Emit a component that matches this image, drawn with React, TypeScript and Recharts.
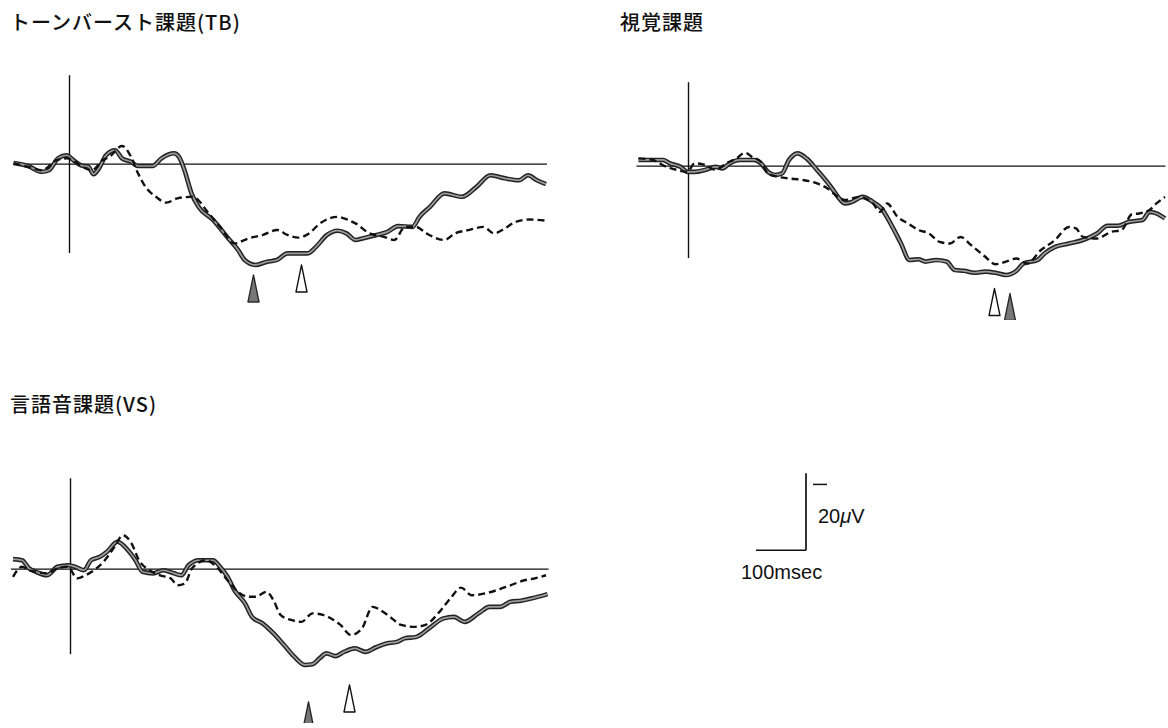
import React from 'react';
import { ComposedChart, Line, XAxis, YAxis, ReferenceLine, ReferenceDot } from 'recharts';

// each point: [time in msec, amplitude in μV]
type Pt = [number, number];

// トーンバースト課題(TB)
const tbSolid: Pt[] = [
  [-112, 0.3], [-83, -0.5], [-55, -2.0], [-41, -1.6], [-23, 1.5], [-5, 2.3], [6, 1.2], [23, -0.3],
  [38, -0.7], [48, -2.6], [59, -1.1], [73, 2.3], [91, 3.6], [105, 1.5], [123, 0.6], [137, -0.5],
  [166, -0.5], [184, 1.5], [209, 2.8], [219, 1.9], [230, -1.6], [244, -7.6], [258, -11.1], [287, -14.5],
  [315, -18.9], [337, -22.3], [351, -25.0], [372, -26.2], [394, -25.4], [415, -24.9], [436, -23.2],
  [458, -23.2], [476, -23.2], [493, -21.5], [515, -18.4], [536, -17.3], [554, -18.0], [572, -19.7],
  [586, -19.3], [614, -18.4], [636, -17.6], [657, -16.1], [686, -16.3], [700, -13.7], [721, -11.1],
  [750, -7.6], [785, -8.5], [814, -5.9], [842, -2.9], [871, -3.7], [899, -4.2], [917, -2.9], [935, -4.2],
  [953, -5.2],
];
const tbDashed: Pt[] = [
  [-112, 0.2], [-83, -0.7], [-55, -1.6], [-26, 1.0], [-5, 1.5], [6, 1.0], [23, -0.5], [45, -1.6],
  [66, 1.0], [80, 1.9], [105, 4.7], [123, 1.9], [137, -2.4], [152, -5.9], [173, -8.5], [194, -10.0],
  [216, -8.9], [244, -8.5], [258, -9.4], [273, -11.9], [301, -16.3], [330, -20.6], [358, -19.3],
  [387, -18.4], [415, -17.1], [436, -18.4], [458, -19.1], [479, -18.0], [501, -15.4], [536, -13.7],
  [557, -14.5], [572, -15.4], [600, -18.0], [629, -18.9], [650, -19.7], [671, -16.3], [693, -16.3],
  [714, -18.0], [750, -19.7], [771, -18.0], [800, -17.1], [828, -16.3], [849, -18.0], [871, -16.7],
  [892, -15.0], [920, -14.4], [953, -14.7],
];

// 視覚課題
const visSolid: Pt[] = [
  [-100, 1.6], [-72, 1.6], [-51, 1.6], [-37, 0.7], [-16, -0.2], [-2, -1.5], [12, -1.5], [33, -1.0],
  [54, -0.2], [68, -0.6], [82, 0.7], [103, 1.6], [131, 1.6], [145, 0.7], [159, -1.5], [173, -2.3],
  [187, -1.9], [201, 1.6], [218, 3.3], [236, 2.0], [257, -1.0], [285, -5.4], [299, -8.0], [313, -9.7],
  [327, -9.3], [348, -8.0], [369, -9.3], [386, -11.0], [404, -14.9], [425, -20.1], [442, -24.4],
  [460, -24.2], [474, -24.8], [495, -24.4], [516, -24.8], [533, -27.0], [551, -27.2], [572, -27.7],
  [593, -27.4], [614, -27.7], [635, -28.3], [656, -27.2], [670, -25.3], [698, -24.4], [712, -22.7],
  [733, -21.0], [761, -20.1], [789, -19.2], [817, -17.5], [838, -15.5], [859, -15.5], [880, -14.5],
  [908, -14.0], [922, -11.9], [936, -12.3], [953, -13.6],
];
const visDashed: Pt[] = [
  [-100, 2.0], [-72, 1.6], [-44, -0.2], [-23, -1.0], [-2, -1.5], [12, 0.7], [33, 0.3], [54, -1.0],
  [75, 0.7], [96, 2.0], [113, 3.5], [127, 2.4], [145, 1.1], [159, -1.9], [180, -2.8], [201, -3.2],
  [229, -3.6], [257, -4.5], [278, -5.8], [299, -8.0], [313, -8.8], [341, -8.0], [369, -9.7],
  [383, -11.9], [397, -9.7], [418, -13.2], [439, -14.9], [460, -16.6], [481, -17.5], [502, -19.7],
  [523, -20.1], [544, -18.4], [565, -20.5], [593, -23.5], [614, -25.5], [635, -24.8], [656, -24.0],
  [677, -25.3], [705, -21.8], [733, -19.2], [761, -15.8], [775, -16.2], [789, -18.4], [817, -18.8],
  [845, -17.1], [866, -16.6], [887, -12.5], [901, -12.3], [922, -11.4], [936, -9.7], [953, -8.0],
];

// 言語音課題(VS)
const spSolid: Pt[] = [
  [-115, 2.6], [-97, 2.3], [-83, 0.2], [-69, -0.7], [-47, -1.6], [-26, 0.6], [-5, 1.0], [9, 0.6],
  [27, -0.3], [41, 2.3], [59, 3.2], [73, 4.5], [94, 7.1], [115, 4.9], [130, 2.3], [144, -0.7],
  [165, -1.1], [186, -0.3], [207, -1.1], [222, -1.6], [236, 1.0], [257, 2.3], [285, 2.3], [299, 0.6],
  [314, -2.0], [328, -5.5], [349, -8.9], [363, -12.4], [384, -14.1], [406, -16.7], [427, -19.7],
  [448, -22.8], [469, -24.9], [484, -24.7], [498, -23.2], [512, -21.9], [530, -22.6], [547, -21.5],
  [569, -20.6], [590, -21.5], [611, -20.3], [632, -19.3], [653, -18.9], [668, -18.0], [692, -17.6],
  [717, -15.4], [746, -12.8], [767, -12.4], [788, -13.7], [816, -11.5], [838, -9.8], [859, -9.8],
  [880, -8.5], [901, -8.2], [923, -7.6], [954, -6.5],
];
const spDashed: Pt[] = [
  [-115, -2.0], [-97, 0.6], [-83, -0.3], [-69, -0.7], [-47, -1.1], [-26, 0.2], [-5, 0.6], [13, -2.4],
  [30, -1.6], [52, 0.2], [66, 1.9], [87, 5.6], [105, 8.8], [122, 6.7], [137, 2.3], [158, -0.3],
  [179, -1.6], [200, -2.4], [215, -4.2], [229, -3.7], [243, 0.2], [271, 2.3], [292, 0.6], [314, -2.9],
  [335, -5.9], [356, -7.2], [370, -7.2], [392, -5.9], [406, -8.1], [420, -11.9], [441, -13.2],
  [462, -13.7], [484, -11.5], [505, -11.9], [526, -13.2], [540, -14.5], [561, -17.1], [583, -15.4],
  [604, -9.8], [625, -11.1], [639, -12.4], [661, -14.5], [689, -15.0], [710, -14.5], [738, -11.1],
  [760, -7.6], [781, -4.8], [802, -6.8], [830, -6.3], [852, -5.5], [880, -4.2], [908, -2.9],
  [929, -2.4], [951, -1.6],
];

// peak markers: [time, tip amplitude]
const tbFilledMark: Pt = [368, -28.8];
const tbOpenMark: Pt = [464, -26.2];
const visOpenMark: Pt = [612, -31.8];
const visFilledMark: Pt = [643, -33.1];
const spFilledMark: Pt = [476, -34.5];
const spOpenMark: Pt = [558, -30.1];

// calibration bar: 100 msec, 20 μV
const calTime = 100;
const calAmp = 20;

const PX_PER_MS = 0.5;
const PX_PER_UV = 3.85;
const T_MIN = -125;
const T_MAX = 965;
const V_MIN = -40;
const V_MAX = 26;

const toRows = (pts: Pt[]) => pts.map(([t, v]) => ({ t, v }));

const Arrowhead = ({ cx, cy, filled }: { cx?: number; cy?: number; filled: boolean }) => {
  if (cx == null || cy == null) return null;
  const w = 5.5;
  const h = 27;
  return (
    <path
      d={`M${cx},${cy} L${cx + w},${cy + h} L${cx - w},${cy + h} Z`}
      fill={filled ? '#777' : '#ffffff'}
      stroke={filled ? '#2a2a2a' : '#111'}
      strokeWidth={1.4}
      strokeLinejoin="round"
    />
  );
};

interface PanelProps {
  x0: number;
  y0: number;
  solid: Pt[];
  dashed: Pt[];
  lineFrom: number;
  lineTo: number;
  axisTop: number;
  axisBottom: number;
  filledMark: Pt;
  openMark: Pt;
}

const Panel = ({ x0, y0, solid, dashed, lineFrom, lineTo, axisTop, axisBottom, filledMark, openMark }: PanelProps) => {
  const width = (T_MAX - T_MIN) * PX_PER_MS;
  const height = (V_MAX - V_MIN) * PX_PER_UV;
  const solidRows = toRows(solid);
  const dashedRows = toRows(dashed);
  return (
    <div style={{ position: 'absolute', left: x0 + T_MIN * PX_PER_MS, top: y0 - V_MAX * PX_PER_UV }}>
      <ComposedChart width={width} height={height} margin={{ top: 0, right: 0, bottom: 0, left: 0 }} style={{ overflow: 'visible' }}>
        <XAxis type="number" dataKey="t" domain={[T_MIN, T_MAX]} hide allowDataOverflow />
        <YAxis type="number" domain={[V_MIN, V_MAX]} hide allowDataOverflow />
        <ReferenceLine segment={[{ x: lineFrom, y: 0 }, { x: lineTo, y: 0 }]} stroke="#111" strokeWidth={1.4} ifOverflow="visible" />
        <ReferenceLine segment={[{ x: 0, y: axisTop }, { x: 0, y: axisBottom }]} stroke="#111" strokeWidth={1.4} ifOverflow="visible" />
        <Line data={solidRows} dataKey="v" type="monotone" stroke="#222" strokeWidth={4.6} dot={false} activeDot={false} isAnimationActive={false} />
        <Line data={solidRows} dataKey="v" type="monotone" stroke="#9c9c9c" strokeWidth={1.7} dot={false} activeDot={false} isAnimationActive={false} />
        <Line data={dashedRows} dataKey="v" type="monotone" stroke="#111" strokeWidth={2.4} strokeDasharray="7 4" dot={false} activeDot={false} isAnimationActive={false} />
        <ReferenceDot x={filledMark[0]} y={filledMark[1]} ifOverflow="visible" shape={(p: any) => <Arrowhead cx={p.cx} cy={p.cy} filled />} />
        <ReferenceDot x={openMark[0]} y={openMark[1]} ifOverflow="visible" shape={(p: any) => <Arrowhead cx={p.cx} cy={p.cy} filled={false} />} />
      </ComposedChart>
    </div>
  );
};

const CalibrationBar = ({ x0, y0 }: { x0: number; y0: number }) => {
  const tMin = -120;
  const tMax = 60;
  const vMin = -5;
  const vMax = 25;
  return (
    <div style={{ position: 'absolute', left: x0 + tMin * PX_PER_MS, top: y0 - vMax * PX_PER_UV }}>
      <ComposedChart width={(tMax - tMin) * PX_PER_MS} height={(vMax - vMin) * PX_PER_UV} margin={{ top: 0, right: 0, bottom: 0, left: 0 }}>
        <XAxis type="number" dataKey="t" domain={[tMin, tMax]} hide allowDataOverflow />
        <YAxis type="number" domain={[vMin, vMax]} hide allowDataOverflow />
        <ReferenceLine segment={[{ x: -calTime, y: 0 }, { x: 0, y: 0 }]} stroke="#111" strokeWidth={1.7} />
        <ReferenceLine segment={[{ x: 0, y: 0 }, { x: 0, y: calAmp }]} stroke="#111" strokeWidth={1.7} />
        <ReferenceLine segment={[{ x: 14, y: 17.1 }, { x: 42, y: 17.1 }]} stroke="#111" strokeWidth={1.5} />
      </ComposedChart>
    </div>
  );
};

const titleStyle: React.CSSProperties = {
  position: 'absolute',
  fontFamily: '"Noto Sans CJK JP", "Noto Sans", sans-serif',
  fontSize: 20,
  fontWeight: 500,
  lineHeight: '20px',
  letterSpacing: 1,
  color: '#111',
  whiteSpace: 'nowrap',
};

const labelStyle: React.CSSProperties = {
  position: 'absolute',
  fontFamily: '"Liberation Sans", Arial, sans-serif',
  fontSize: 20,
  lineHeight: '20px',
  color: '#111',
  whiteSpace: 'nowrap',
};

export default function App() {
  return (
    <div style={{ position: 'absolute', left: 0, top: 0, width: 1168, height: 728, background: '#fff', overflow: 'hidden' }}>
      <div style={{ ...titleStyle, left: 10, top: 12 }}>トーンバースト課題(TB)</div>
      <div style={{ ...titleStyle, left: 620, top: 12 }}>視覚課題</div>
      <div style={{ ...titleStyle, left: 10, top: 394 }}>言語音課題(VS)</div>

      <Panel x0={69.5} y0={164} solid={tbSolid} dashed={tbDashed} lineFrom={-112} lineTo={955}
        axisTop={23.1} axisBottom={-23.1} filledMark={tbFilledMark} openMark={tbOpenMark} />
      <Panel x0={688} y0={166} solid={visSolid} dashed={visDashed} lineFrom={-104} lineTo={954}
        axisTop={21.8} axisBottom={-23.9} filledMark={visFilledMark} openMark={visOpenMark} />
      <Panel x0={70} y0={569} solid={spSolid} dashed={spDashed} lineFrom={-119} lineTo={956}
        axisTop={23.6} axisBottom={-22.1} filledMark={spFilledMark} openMark={spOpenMark} />

      <CalibrationBar x0={806} y0={550} />
      <div style={{ ...labelStyle, left: 818, top: 506 }}>20<i>μ</i>V</div>
      <div style={{ ...labelStyle, left: 741, top: 562 }}>100msec</div>
    </div>
  );
}
